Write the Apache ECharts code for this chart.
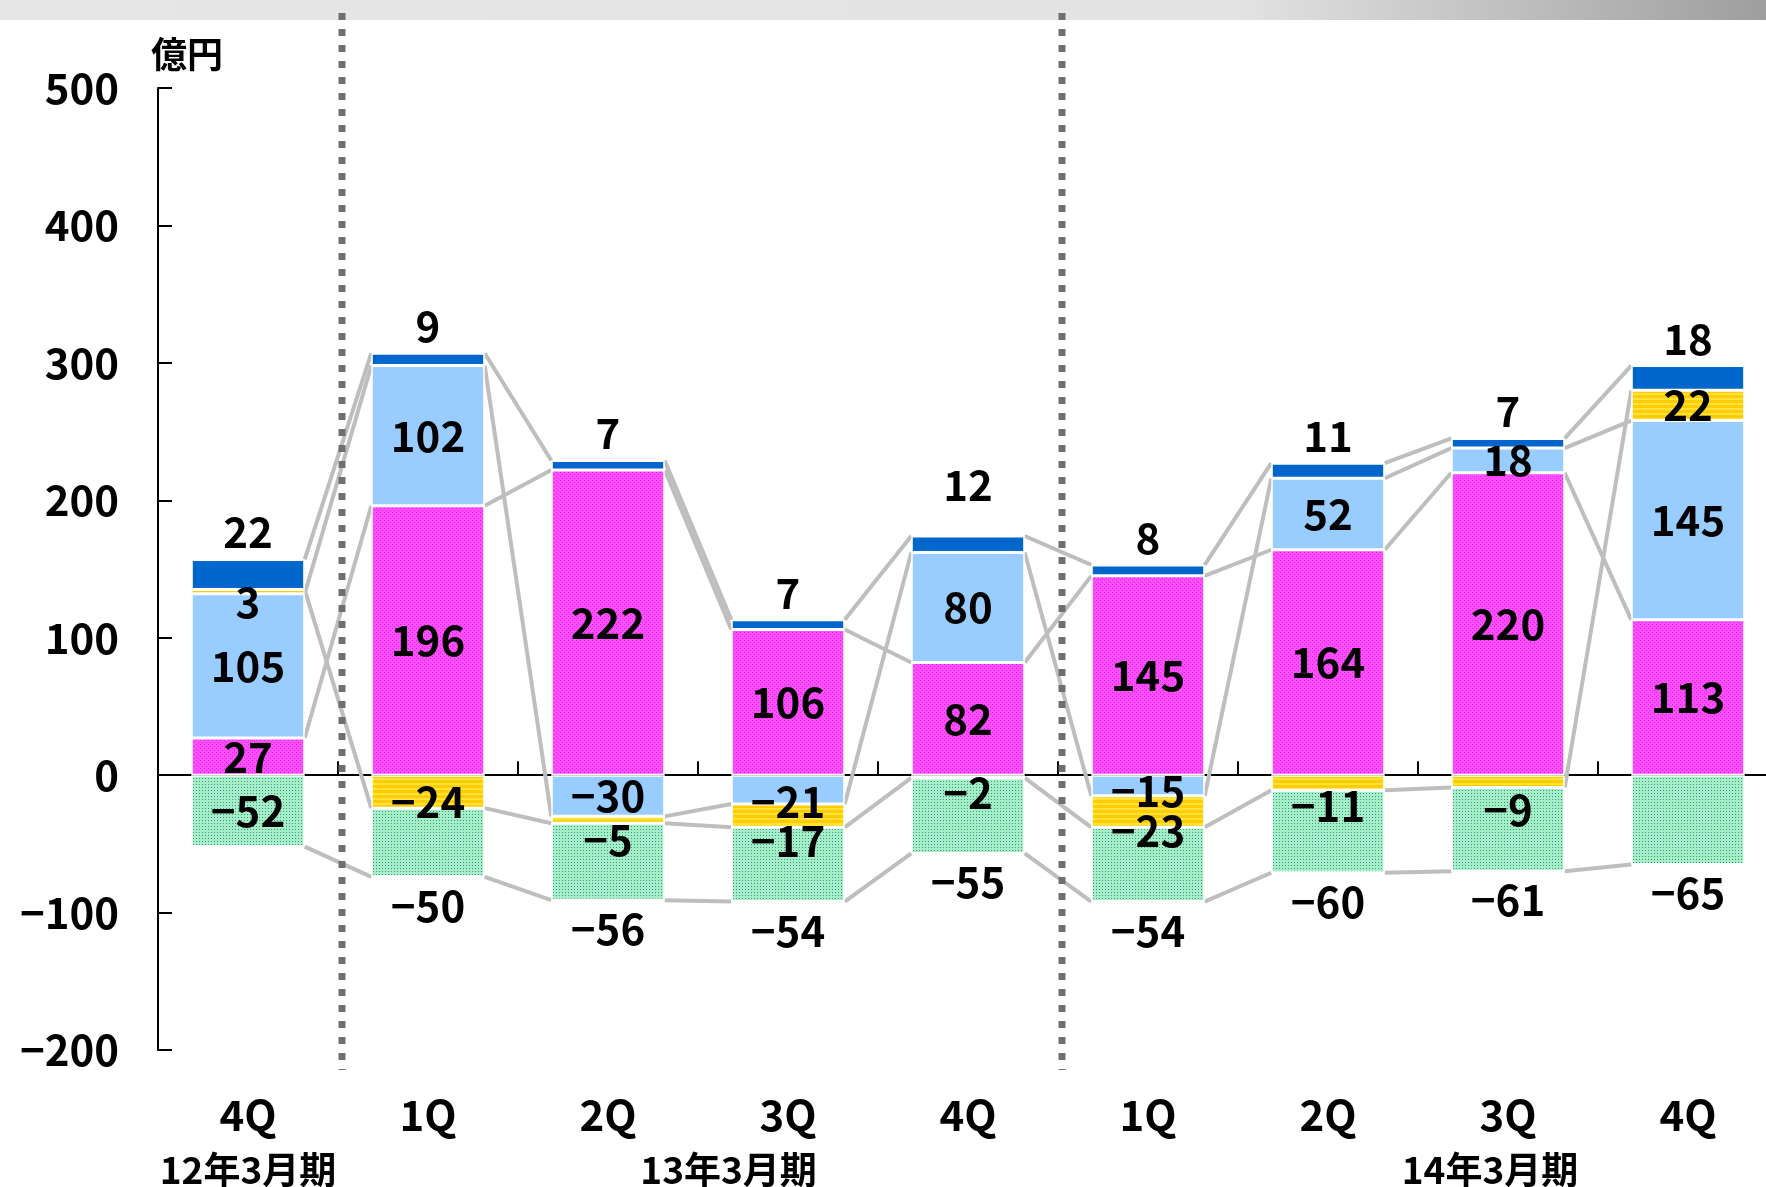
<!DOCTYPE html>
<html>
<head>
  <meta charset="utf-8">
  <title>四半期推移</title>
  <script src="https://cdn.jsdelivr.net/npm/echarts@6/dist/echarts.min.js"></script>
  <style>
    html, body { margin: 0; padding: 0; background: #fff; }
    #main { width: 1766px; height: 1187px; }
  </style>
</head>
<body>
<div id="main"></div>
<script>
  // quarters, two fiscal-year boundaries
  var categories = ['4Q', '1Q', '2Q', '3Q', '4Q', '1Q', '2Q', '3Q', '4Q'];
  var fiscalYears = ['12年3月期', '13年3月期', '14年3月期'];

  // stacked segments (億円), bottom to top for positives
  var magenta = [27, 196, 222, 106, 82, 145, 164, 220, 113];
  var lightBlue = [105, 102, -30, -21, 80, -15, 52, 18, 145];
  var yellow = [3, -24, -5, -17, -2, -23, -11, -9, 22];
  var darkBlue = [22, 9, 7, 7, 12, 8, 11, 7, 18];
  var green = [-52, -50, -56, -54, -55, -54, -60, -61, -65];

  var yTicks = { min: -200, max: 500, interval: 100 };

  // layout stuff (not data)
  var FONT = '"Noto Sans CJK JP", sans-serif';
  var BAR = 0.63;
  var fyAnchor = [0, 2.67, 6.9];
  var yellowOffset = [10, 10, 20, 25, 17, 19, 23, 29, 0];
  var lightBlueOffset = { 3: 12, 5: 6 };
  var darkBlueOffset = { 4: -24 };

  function fmt(v) { return v < 0 ? '\u2212' + Math.abs(v) : String(v); }

  function pattern(w, h, base, dot, cells) {
    var c = document.createElement('canvas');
    c.width = w; c.height = h;
    var g = c.getContext('2d');
    g.fillStyle = base; g.fillRect(0, 0, w, h);
    g.fillStyle = dot;
    cells.forEach(function (p) { g.fillRect(p[0], p[1], p[2] || 1, p[3] || 1); });
    return { image: c, repeat: 'repeat' };
  }
  var magentaFill = pattern(4, 4, '#ff4dff', '#d22bd2', [[0, 0], [2, 2]]);
  var greenFill = pattern(3, 3, '#a6eec8', '#2f9f80', [[1, 1]]);
  var yellowFill = pattern(1, 5, '#ffcc00', '#ffe23a', [[0, 3, 1, 2]]);

  var labelBase = { show: true, color: '#000', fontSize: 42, fontWeight: 'bold', fontFamily: FONT,
    formatter: function (p) { return fmt(p.value); } };

  function items(arr, fn) {
    return arr.map(function (v, i) {
      var o = fn ? fn(v, i) : null;
      return o ? { value: v, label: o } : v;
    });
  }

  var stacks = [
    { name: 'magenta', values: magenta, color: magentaFill,
      data: items(magenta), label: { position: 'inside' } },
    { name: 'lightBlue', values: lightBlue, color: '#99ccff',
      data: items(lightBlue, function (v, i) { return lightBlueOffset[i] ? { offset: [0, lightBlueOffset[i]] } : null; }),
      label: { position: 'inside' } },
    { name: 'yellow', values: yellow, color: yellowFill,
      data: items(yellow, function (v, i) { return yellowOffset[i] ? { offset: [0, yellowOffset[i]] } : null; }),
      label: { position: 'inside' } },
    { name: 'darkBlue', values: darkBlue, color: '#0066cc',
      data: items(darkBlue, function (v, i) { return darkBlueOffset[i] ? { offset: [0, darkBlueOffset[i]] } : null; }),
      label: { position: 'top', distance: 6 } },
    { name: 'green', values: green, color: greenFill,
      data: items(green, function (v, i) { return i === 0 ? { position: 'inside' } : null; }),
      label: { position: 'bottom', distance: 8 } }
  ];

  // stacked end of every segment (same-sign stacking, like echarts does)
  var ends = [];
  var pos = categories.map(function () { return 0; });
  var neg = categories.map(function () { return 0; });
  stacks.forEach(function (s) {
    ends.push(s.values.map(function (v, i) {
      if (v >= 0) { pos[i] += v; return pos[i]; }
      neg[i] += v; return neg[i];
    }));
  });
  var seriesLines = [];
  ends.forEach(function (e) {
    for (var i = 0; i < e.length - 1; i++) seriesLines.push([i, e[i], i + 1, e[i + 1]]);
  });

  var series = stacks.map(function (s) {
    return {
      name: s.name, type: 'bar', stack: 'total', xAxisIndex: 0,
      barWidth: (BAR * 100) + '%', z: 3,
      itemStyle: { color: s.color, borderColor: '#fff', borderWidth: 1.5 },
      label: Object.assign({}, labelBase, s.label),
      data: s.data
    };
  });

  // connecting lines between the bars
  series.push({
    type: 'custom', xAxisIndex: 0, z: 1, silent: true,
    data: seriesLines,
    renderItem: function (params, api) {
      var half = api.size([1, 0])[0] * BAR / 2;
      var a = api.coord([api.value(0), api.value(1)]);
      var b = api.coord([api.value(2), api.value(3)]);
      return { type: 'line', shape: { x1: a[0] + half, y1: a[1], x2: b[0] - half, y2: b[1] },
        style: { stroke: '#bebebe', lineWidth: 4 } };
    }
  });

  // fiscal-year dividers (square dots) and labels
  series.push({
    type: 'custom', xAxisIndex: 0, z: 5, silent: true, clip: false,
    data: [[0, 0]],
    renderItem: function (params, api) {
      var bw = api.size([1, 0])[0];
      var x0 = api.coord([0, 0])[0];
      var top = api.coord([0, yTicks.max])[1] - 75;
      var bottom = api.coord([0, yTicks.min])[1] + 20;
      var children = [];
      [1, 5].forEach(function (k) {
        var x = x0 + (k - 0.5) * bw + 4;
        for (var y = top; y < bottom; y += 16) {
          children.push({ type: 'rect', shape: { x: x - 3.5, y: y, width: 7, height: Math.min(7, bottom - y) },
            style: { fill: '#6f6f6f' } });
        }
      });
      fiscalYears.forEach(function (t, j) {
        children.push({ type: 'text', x: x0 + fyAnchor[j] * bw, y: bottom + 100,
          style: { text: t, align: 'center', verticalAlign: 'middle', fill: '#000',
            font: 'bold 37px ' + FONT } });
      });
      return { type: 'group', children: children };
    }
  });

  var chart = echarts.init(document.getElementById('main'));
  chart.setOption({
    animation: false,
    backgroundColor: '#fff',
    title: { text: '億円', left: 146, top: 31,
      textStyle: { fontSize: 36, fontWeight: 'bold', fontFamily: FONT, color: '#000' } },
    graphic: [{
      type: 'rect', shape: { x: 0, y: 0, width: 1766, height: 20 }, z: -1,
      style: { fill: new echarts.graphic.LinearGradient(0, 0, 1, 0, [
        { offset: 0, color: '#e6e6e6' }, { offset: 0.7, color: '#e3e3e3' }, { offset: 1, color: '#9e9e9e' }]) }
    }],
    grid: { left: 158, top: 88, bottom: 137, width: 1620, containLabel: false, outerBoundsMode: 'none' },
    xAxis: [{
      type: 'category', data: categories, position: 'bottom',
      axisLine: { onZero: true, lineStyle: { color: '#000', width: 2 } },
      axisTick: { show: true, inside: true, length: 14, lineStyle: { color: '#000', width: 2 } },
      axisLabel: { show: false }
    }, {
      type: 'category', data: categories, position: 'bottom',
      axisLine: { show: false, onZero: false }, axisTick: { show: false },
      axisLabel: { margin: 44, color: '#000', fontSize: 42, fontWeight: 'bold', fontFamily: FONT }
    }],
    yAxis: {
      type: 'value', min: yTicks.min, max: yTicks.max, interval: yTicks.interval,
      axisLine: { show: true, lineStyle: { color: '#000', width: 2 } },
      axisTick: { show: true, inside: true, length: 14, lineStyle: { color: '#000', width: 2 } },
      splitLine: { show: false },
      axisLabel: { margin: 39, color: '#000', fontSize: 42, fontWeight: 'bold', fontFamily: FONT,
        formatter: fmt }
    },
    series: series
  });
</script>
</body>
</html>
